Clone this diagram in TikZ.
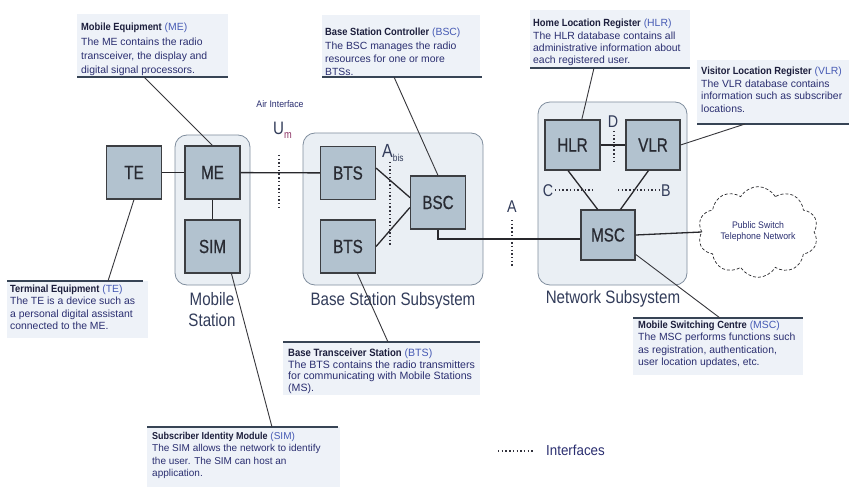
\documentclass[tikz,border=0pt]{standalone}
\usepackage{fontspec}
\setmainfont{Liberation Sans}
\newfontfamily\boxfont[FakeStretch=0.8,FakeBold=0.6]{Liberation Sans}
\newfontfamily\grpfont[FakeStretch=0.84]{Liberation Sans}
\newfontfamily\titfont[FakeStretch=0.9]{Liberation Sans}
\newfontfamily\ifont[FakeStretch=0.92]{Liberation Sans}
\usetikzlibrary{shapes.symbols,calc}
\definecolor{boxfill}{RGB}{178,194,207}
\definecolor{boxline}{RGB}{60,62,66}
\definecolor{boxtext}{RGB}{40,42,50}
\definecolor{grpfill}{RGB}{234,239,244}
\definecolor{grpline}{RGB}{128,142,158}
\definecolor{calbg}{RGB}{238,242,248}
\definecolor{calline}{RGB}{55,68,85}
\definecolor{navy}{RGB}{42,46,112}
\definecolor{titlec}{RGB}{28,30,60}
\definecolor{abbrc}{RGB}{70,90,180}
\definecolor{lblc}{RGB}{50,60,90}
\definecolor{connc}{RGB}{40,40,44}
\definecolor{leadc}{RGB}{55,55,60}
\definecolor{ifc}{RGB}{50,50,60}
\definecolor{umc}{RGB}{140,50,100}
\newcommand\ctitle[2]{{\titfont\bfseries\color{titlec}#1} {\color{abbrc}(#2)}}
\begin{document}
\begin{tikzpicture}[x=1pt,y=-1pt,
 blk/.style={draw=boxline, fill=boxfill, line width=1.1pt, minimum width=55pt, minimum height=53pt, inner sep=0pt, font=\boxfont\fontsize{19}{19}\selectfont, text=boxtext},
 nblk/.style={blk, minimum height=50pt},
 grp/.style={draw=grpline, fill=grpfill, line width=0.8pt, rounded corners=12pt, inner sep=0pt},
 glabel/.style={font=\grpfont\fontsize{18}{21}\selectfont, text=lblc, inner sep=0pt, align=center, anchor=north},
 conn/.style={draw=connc, line width=1.3pt},
 leader/.style={draw=leadc, line width=0.9pt},
 iface/.style={draw=ifc, line width=1.6pt, dash pattern=on 1.4pt off 2.3pt},
 ilabel/.style={font=\grpfont\fontsize{17}{17}\selectfont, text=lblc, inner sep=0pt, anchor=base},
 cbg/.style={fill=calbg},
 cedge/.style={draw=calline, line width=1.4pt},
 ctext/.style={anchor=north west, inner sep=0pt, align=left, text=navy},
]
\useasboundingbox (0,0) rectangle (849,492);
\fill[white] (0,0) rectangle (849,492);

% callout backgrounds and edges
\fill[cbg] (77,14) rectangle (228,77);   \draw[cedge] (77,77) -- (228,77);
\fill[cbg] (322,15) rectangle (480,77);  \draw[cedge] (322,77) -- (482,77);
\fill[cbg] (530,10) rectangle (690,68);  \draw[cedge] (530,68) -- (690,68);
\fill[cbg] (697,60) rectangle (849,124); \draw[cedge] (697,124) -- (849,124);
\fill[cbg] (7,281) rectangle (148,338);  \draw[cedge] (7,281) -- (143,281);
\fill[cbg] (283,342) rectangle (480,395);\draw[cedge] (283,342) -- (480,342);
\fill[cbg] (633,318) rectangle (803,375);\draw[cedge] (633,318) -- (803,318);
\fill[cbg] (147,427) rectangle (340,487);\draw[cedge] (147,427) -- (338,427);

% callout texts
\node[ctext, font=\fontsize{10.4}{14.3}\selectfont] (meT) at (81,23)
 {\ctitle{Mobile Equipment}{ME}\\The ME contains the radio\\transceiver, the display and\\digital signal processors.};
\node[ctext, font=\fontsize{10.4}{13.3}\selectfont] (bscT) at (325,28)
 {\ctitle{Base Station Controller}{BSC}\\The BSC manages the radio\\resources for one or more\\BTSs.};
\node[ctext, font=\fontsize{10.4}{12.4}\selectfont] (hlrT) at (533,19)
 {\ctitle{Home Location Register}{HLR}\\The HLR database contains all\\administrative information about\\each registered user.};
\node[ctext, font=\fontsize{10.4}{12.5}\selectfont] (vlrT) at (701,67)
 {\ctitle{Visitor Location Register}{VLR}\\The VLR database contains\\information such as subscriber\\locations.};
\node[ctext, font=\fontsize{10.4}{12.4}\selectfont] (teT) at (10,284.7)
 {\ctitle{Terminal Equipment}{TE}\\The TE is a device such as\\a personal digital assistant\\connected to the ME.};
\node[ctext, font=\fontsize{10.6}{11.6}\selectfont] (btsT) at (288,348.7)
 {\ctitle{Base Transceiver Station}{BTS}\\The BTS contains the radio transmitters\\for communicating with Mobile Stations\\(MS).};
\node[ctext, font=\fontsize{10.4}{12.2}\selectfont] (mscT) at (638,321)
 {\ctitle{Mobile Switching Centre}{MSC}\\The MSC performs functions such\\as registration, authentication,\\user location updates, etc.};
\node[ctext, font=\fontsize{10.0}{12.4}\selectfont] (simT) at (152,432)
 {\ctitle{Subscriber Identity Module}{SIM}\\The SIM allows the network to identify\\the user. The SIM can host an\\application.};

% groups
\node[grp, minimum width=75pt, minimum height=150pt] (msgrp) at (212.5,210) {};
\node[grp, minimum width=180pt, minimum height=152pt] (bssgrp) at (393,209) {};
\node[grp, minimum width=149pt, minimum height=183pt] (nssgrp) at (612.5,193.5) {};
\node[glabel] (msl) at (212,292) {Mobile\\Station};
\node[glabel] (bssl) at (393,292) {Base Station Subsystem};
\node[glabel] (nssl) at (613,290) {Network Subsystem};

% blocks
\node[blk] (te) at (134,172.5) {TE};
\node[blk] (me) at (212.5,172.5) {ME};
\node[blk] (sim) at (212.5,246.5) {SIM};
\node[blk] (bts1) at (348,173) {BTS};
\node[blk] (bts2) at (348,246.5) {BTS};
\node[blk] (bsc) at (438,202.5) {BSC};
\node[nblk] (hlr) at (572.5,145) {HLR};
\node[nblk, minimum width=54pt] (vlr) at (653,145) {VLR};
\node[nblk, minimum width=54pt] (msc) at (608,235) {MSC};
\node[cloud, cloud puffs=10, cloud puff arc=120, aspect=1.4, minimum width=120pt, minimum height=86pt,
      draw=connc, line width=0.7pt, densely dashed, fill=white, align=center, inner sep=0pt,
      font=\ifont\fontsize{9.5}{11}\selectfont, text=navy] (pstn) at (758,232) {Public Switch\\Telephone Network};

% connectors
\draw[conn] (te) -- (me);
\draw[conn] (me) -- (sim);
\draw[conn] (me) -- (bts1);
\draw[conn] (bts1.10) -- (bsc.170);
\draw[conn] (bts2.east) -- (bsc.190);
\draw[conn] (bsc.south) |- (msc.188);
\draw[conn] (hlr) -- (vlr);
\draw[conn] (hlr.-100) -- (msc.112);
\draw[conn] (vlr.-100) -- (msc.64);
\draw[conn] (msc.east) -- (pstn.west);

% leaders
\coordinate (meL) at (144,77);
\coordinate (bscL) at (394,77);
\coordinate (hlrL) at (594,68);
\coordinate (vlrL) at (745,124);
\coordinate (teL) at (108,281);
\coordinate (btsL) at (388,342);
\coordinate (mscL) at (720,318);
\coordinate (simL) at (272,427);
\draw[leader] (meL) -- (me.north);
\draw[leader] (bscL) -- (bsc.north);
\draw[leader] (hlrL) -- (hlr.70);
\draw[leader] (vlrL) -- (vlr.east);
\draw[leader] (teL) -- (te.south);
\draw[leader] (btsL) -- (bts2.-71);
\draw[leader] (mscL) -- (msc.-35);
\draw[leader] (simL) -- (sim.-55);

% interfaces
\draw[iface] (279,155) -- (279,208);
\draw[iface] (390,162) -- (390,247);
\draw[iface] (512,220) -- (512,268);
\draw[iface] (614,131) -- (614,163);
\draw[iface] (555,190) -- (595,190);
\draw[iface] (618,190) -- (660,190);
\node[font=\ifont\fontsize{9.5}{10}\selectfont, text=navy, inner sep=0pt] (air) at (280,104) {Air Interface};
\node[ilabel, anchor=base west, font=\grpfont\fontsize{18}{18}\selectfont] (um) at (273,135) {U\raisebox{-4pt}{\fontsize{11}{11}\selectfont\color{umc}m}};
\node[ilabel, anchor=base west, font=\grpfont\fontsize{19}{19}\selectfont] (abis) at (382,158) {A\raisebox{-3pt}{\fontsize{10}{10}\selectfont bis}};
\node[ilabel] (alab) at (512,212) {A};
\node[ilabel] (dlab) at (613,127.5) {D};
\node[ilabel] (clab) at (548,196.5) {C};
\node[ilabel] (blab) at (666,196.5) {B};

% legend
\draw[iface] (498,451) -- (534,451);
\node[font=\ifont\fontsize{14.5}{15}\selectfont, text=navy, anchor=west, inner sep=0pt] (leg) at (546,450) {Interfaces};
\end{tikzpicture}
\end{document}
